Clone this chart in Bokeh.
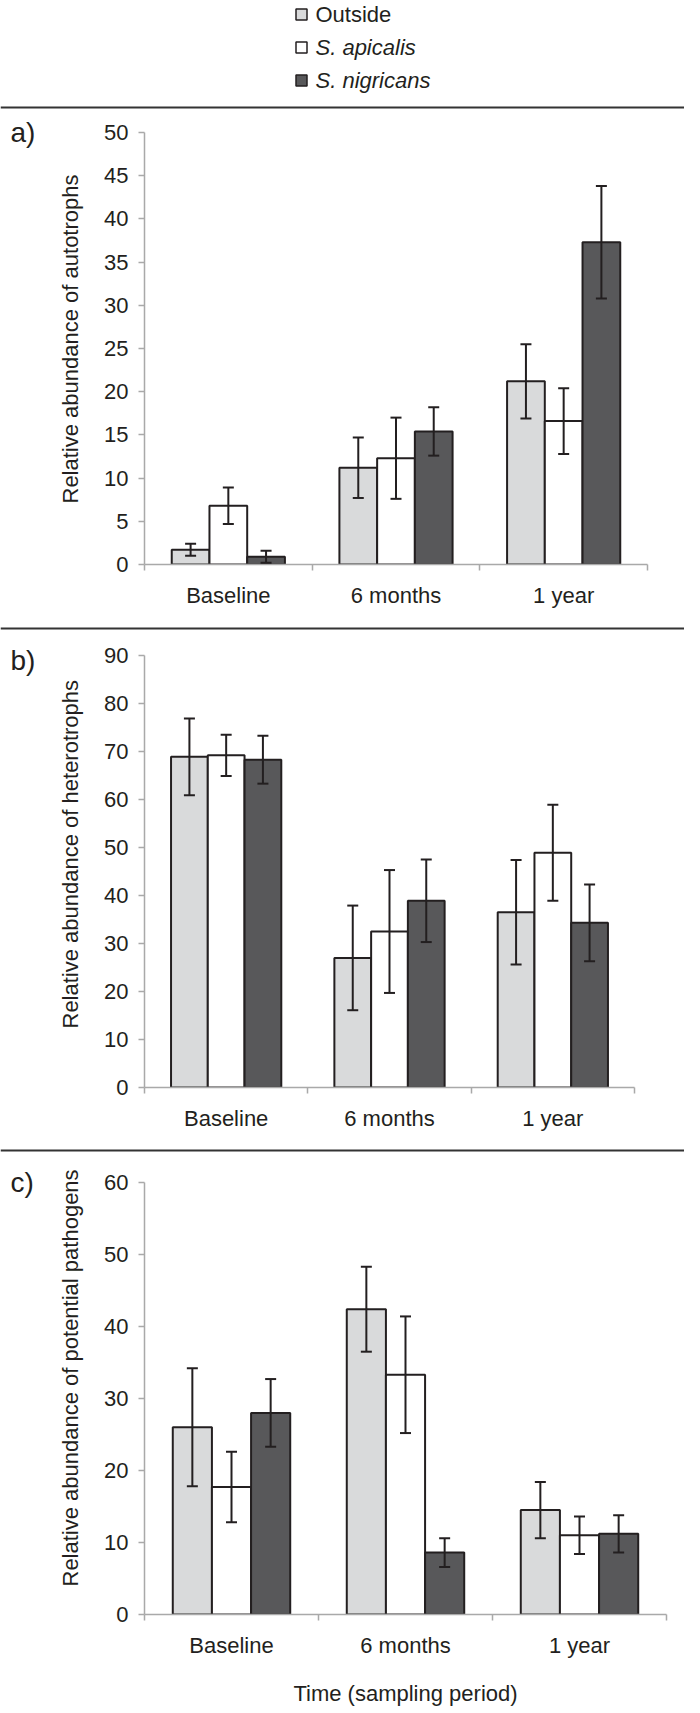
import math
from bokeh.plotting import figure
from bokeh.models import ColumnDataSource, Range1d, FixedTicker, Whisker, TeeHead
from bokeh.layouts import column, row
from bokeh.embed import file_html
from bokeh.resources import INLINE
from bokeh.core.properties import value

# ---------------- data ----------------
categories = ["Baseline", "6 months", "1 year"]
series = ["Outside", "S. apicalis", "S. nigricans"]

auto_outside = [1.7, 11.2, 21.2]
auto_outside_err = [0.7, 3.5, 4.3]
auto_apicalis = [6.8, 12.3, 16.6]
auto_apicalis_err = [2.1, 4.7, 3.8]
auto_nigricans = [0.9, 15.4, 37.3]
auto_nigricans_err = [0.7, 2.8, 6.5]

hetero_outside = [68.9, 27.0, 36.5]
hetero_outside_err = [8.0, 10.9, 10.9]
hetero_apicalis = [69.2, 32.5, 48.9]
hetero_apicalis_err = [4.3, 12.8, 10.0]
hetero_nigricans = [68.3, 38.9, 34.3]
hetero_nigricans_err = [5.0, 8.6, 8.0]

path_outside = [26.0, 42.4, 14.5]
path_outside_err = [8.2, 5.9, 3.9]
path_apicalis = [17.7, 33.3, 11.0]
path_apicalis_err = [4.9, 8.1, 2.6]
path_nigricans = [28.0, 8.6, 11.2]
path_nigricans_err = [4.7, 2.0, 2.6]

# ---------------- style ----------------
FONT = "Liberation Sans"
TXT = "#231f20"
AXIS_GRAY = "#a9a9a9"
FILLS = ["#d9dadb", "#ffffff", "#58585a"]
EDGE = "#231f20"
SEP = "#333333"
W = 684
FS = "22px"
BW = 0.225
SIDE = 100         # width of the strip holding panel letter and y title
LEFT = 144 - SIDE  # left border of the panel figures
STRIP_H = 16


def blank_fig(w, h):
    p = figure(width=w, height=h, x_range=Range1d(0, w), y_range=Range1d(h, 0),
               output_backend="svg", toolbar_location=None, min_border=0,
               x_axis_location=None, y_axis_location=None, outline_line_color=None,
               frame_align=False)
    p.grid.visible = False
    return p


def legend_fig():
    p = blank_fig(W, 100)
    ys = [14, 47, 80]
    src = ColumnDataSource(dict(x=[301] * 3, y=ys, c=FILLS))
    p.scatter("x", "y", source=src, marker="square", size=11, fill_color="c",
              line_color=EDGE, line_width=1.5)
    p.text(x=[315], y=[ys[0]], text=[series[0]], text_font=value(FONT),
           text_font_size=FS, text_baseline="middle", text_color=TXT)
    p.text(x=[315, 315], y=ys[1:], text=series[1:], text_font=value(FONT),
           text_font_size=FS, text_font_style="italic", text_baseline="middle",
           text_color=TXT)
    return p


def strip_fig(line_y):
    p = blank_fig(W, STRIP_H)
    p.quad(left=[0], right=[W], top=[line_y], bottom=[line_y + 2],
           fill_color=SEP, line_color=None)
    return p


def side_fig(letter, ylabel, h, y_mid, label_start):
    p = blank_fig(SIDE, h)
    p.text(x=[10], y=[y_mid], text=[letter], text_font=value(FONT),
           text_font_size="28px", text_baseline="middle", text_color=TXT)
    p.text(x=[70], y=[label_start], text=[ylabel], angle=math.pi / 2,
           text_font=value(FONT), text_font_size=FS, text_align="left",
           text_baseline="middle", text_color=TXT)
    return p


def panel(letter, ylabel, ymax, ystep, vals, errs, frame_w, top_b, bottom_b,
          letter_y, label_start, xlabel=None):
    p = figure(frame_width=frame_w, frame_height=432,
               x_range=Range1d(-0.5, len(categories) - 0.5), y_range=Range1d(0, ymax),
               output_backend="svg", toolbar_location=None,
               min_border_left=LEFT, min_border_right=W - SIDE - LEFT - frame_w,
               min_border_top=top_b, min_border_bottom=bottom_b,
               outline_line_color=None, frame_align=False)
    p.grid.visible = False
    xs = list(range(len(categories)))
    for j in range(len(series)):
        off = (j - 1) * BW
        bx = [x + off for x in xs]
        src = ColumnDataSource(dict(
            x=bx, top=vals[j],
            upper=[v + e for v, e in zip(vals[j], errs[j])],
            lower=[v - e for v, e in zip(vals[j], errs[j])]))
        p.vbar(x="x", top="top", bottom=0, width=BW, source=src,
               fill_color=FILLS[j], line_color=EDGE, line_width=2)
        wk = Whisker(base="x", upper="upper", lower="lower", source=src,
                     dimension="height", line_color=EDGE, line_width=2,
                     level="annotation",
                     upper_head=TeeHead(size=11, line_color=EDGE, line_width=2),
                     lower_head=TeeHead(size=11, line_color=EDGE, line_width=2))
        p.add_layout(wk)

    xa = p.xaxis[0]
    xa.ticker = FixedTicker(ticks=xs, minor_ticks=[x - 0.5 for x in xs] + [xs[-1] + 0.5])
    xa.major_label_overrides = {x: c for x, c in zip(xs, categories)}
    xa.major_tick_out = 0
    xa.major_tick_in = 0
    xa.minor_tick_out = 6
    xa.minor_tick_in = 0
    xa.minor_tick_line_color = AXIS_GRAY
    xa.minor_tick_line_width = 1.5
    xa.axis_line_color = AXIS_GRAY
    xa.axis_line_width = 1.5
    xa.major_label_text_font = FONT
    xa.major_label_text_font_size = FS
    xa.major_label_text_color = TXT
    xa.major_label_standoff = 12
    if xlabel:
        xa.axis_label = xlabel
        xa.axis_label_text_font = FONT
        xa.axis_label_text_font_size = FS
        xa.axis_label_text_font_style = "normal"
        xa.axis_label_text_color = TXT
        xa.axis_label_standoff = 20

    ya = p.yaxis[0]
    ya.ticker = FixedTicker(ticks=list(range(0, ymax + 1, ystep)), minor_ticks=[])
    ya.major_tick_out = 6
    ya.major_tick_in = 0
    ya.major_tick_line_color = AXIS_GRAY
    ya.major_tick_line_width = 1.5
    ya.minor_tick_line_color = None
    ya.axis_line_color = AXIS_GRAY
    ya.axis_line_width = 1.5
    ya.major_label_text_font = FONT
    ya.major_label_text_font_size = FS
    ya.major_label_text_color = TXT
    ya.major_label_standoff = 10

    h = top_b + 432 + bottom_b
    return row(side_fig(letter, ylabel, h, letter_y, label_start), p, spacing=0)


block_a = panel("a)", "Relative abundance of autotrophs", 50, 5,
                [auto_outside, auto_apicalis, auto_nigricans],
                [auto_outside_err, auto_apicalis_err, auto_nigricans_err],
                503, 16, 56, 16, 387)
block_b = panel("b)", "Relative abundance of heterotrophs", 90, 10,
                [hetero_outside, hetero_apicalis, hetero_nigricans],
                [hetero_outside_err, hetero_apicalis_err, hetero_nigricans_err],
                490, 19, 55, 24, 392)
block_c = panel("c)", "Relative abundance of potential pathogens", 60, 10,
                [path_outside, path_apicalis, path_nigricans],
                [path_outside_err, path_apicalis_err, path_nigricans_err],
                522, 24, 83, 24, 428, xlabel="Time (sampling period)")

layout = column(legend_fig(), strip_fig(6), block_a, strip_fig(7), block_b,
                strip_fig(7), block_c, spacing=0)

open("out.html", "w").write(file_html(layout, INLINE))
